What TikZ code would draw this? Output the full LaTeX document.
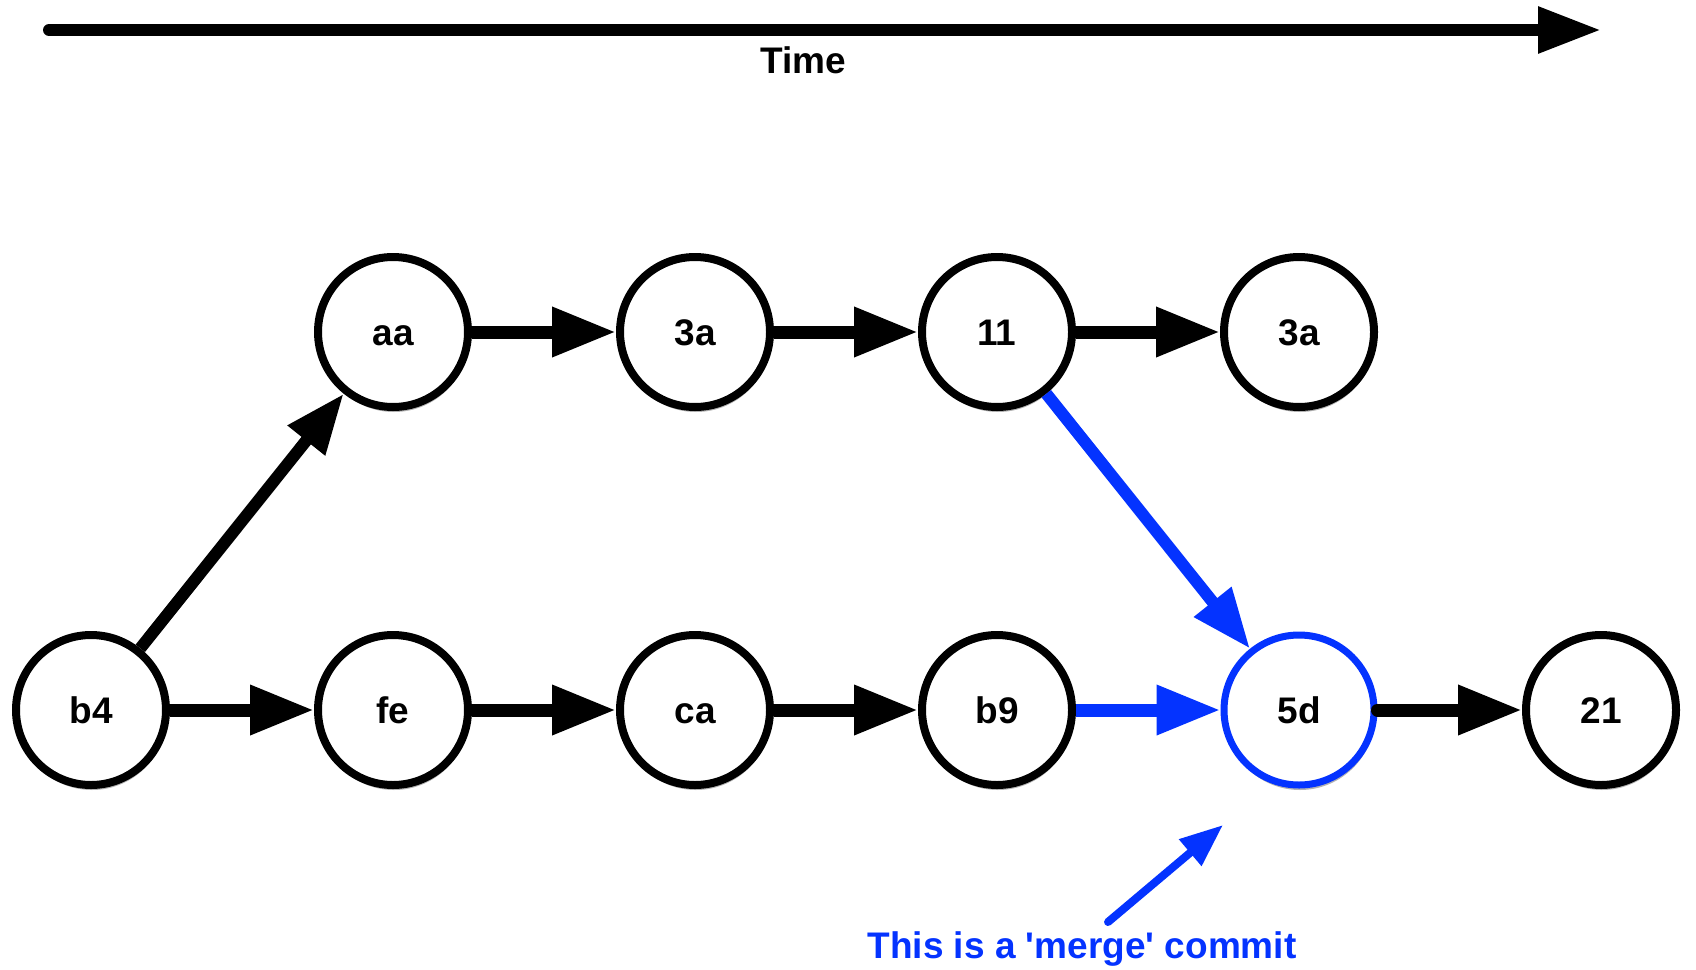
\documentclass[tikz,border=0pt]{standalone}
\usepackage{fontspec}
\setmainfont{Liberation Sans}
\usetikzlibrary{arrows.meta,shadows}
\definecolor{gblue}{RGB}{4,51,255}
\begin{document}
\begin{tikzpicture}[x=1pt,y=-1pt,
  lbl/.style={font=\fontsize{37}{40}\selectfont\bfseries},
  commit/.style={circle,draw=black,line width=8pt,fill=white,minimum size=150pt,inner sep=0pt,lbl,
    text height=26.5pt,text depth=0pt,
    drop shadow={shadow xshift=1pt,shadow yshift=-5pt,opacity=0.3,fill=black}},
  link/.style={line width=13pt,-{Triangle[length=64pt,width=47pt]}},
  diag/.style={line width=12pt,-{Triangle[length=60pt,width=45pt]}}]
\fill[white] (0,0) rectangle (1696,969);
\useasboundingbox (0,0) rectangle (1696,969);
% time axis
\coordinate (ts) at (49,30);
\coordinate (te) at (1601,30);
\draw[line width=12pt,line cap=round,-{Triangle[length=63pt,width=44pt]}] (ts) -- (te);
\node[lbl,anchor=base] (time) at (803,73) {Time};
% commits
\node[commit] (b4) at (91,710) {b4};
\node[commit] (fe) at (393,710) {fe};
\node[commit] (ca) at (695,710) {ca};
\node[commit] (b9) at (997,710) {b9};
\node[commit,draw=gblue,line width=7pt] (m5d) at (1299,710) {5d};
\node[commit] (c21) at (1601,710) {21};
\node[commit] (aa) at (393,332) {aa};
\node[commit] (t3a) at (695,332) {3a};
\node[commit] (c11) at (997,332) {11};
\node[commit] (u3a) at (1299,332) {3a};
% connectors
\draw[link] (b4) -- (fe);
\draw[link] (fe) -- (ca);
\draw[link] (ca) -- (b9);
\draw[link,gblue] (b9) -- (m5d);
\draw[link,line cap=round] (m5d) -- (c21);
\draw[link] (aa) -- (t3a);
\draw[link] (t3a) -- (c11);
\draw[link] (c11) -- (u3a);
\draw[diag] (b4) -- (aa);
\draw[diag,gblue] (c11) -- (m5d);
% merge note
\node[lbl,anchor=base,text=gblue] (note) at (1082,958) {This is a \textquotesingle merge\textquotesingle\ commit};
\coordinate (ms) at (1108,922);
\coordinate (me) at (1223,825);
\draw[gblue,line width=8pt,line cap=round,-{Triangle[length=43pt,width=33pt]}] (ms) -- (me);
\end{tikzpicture}
\end{document}
